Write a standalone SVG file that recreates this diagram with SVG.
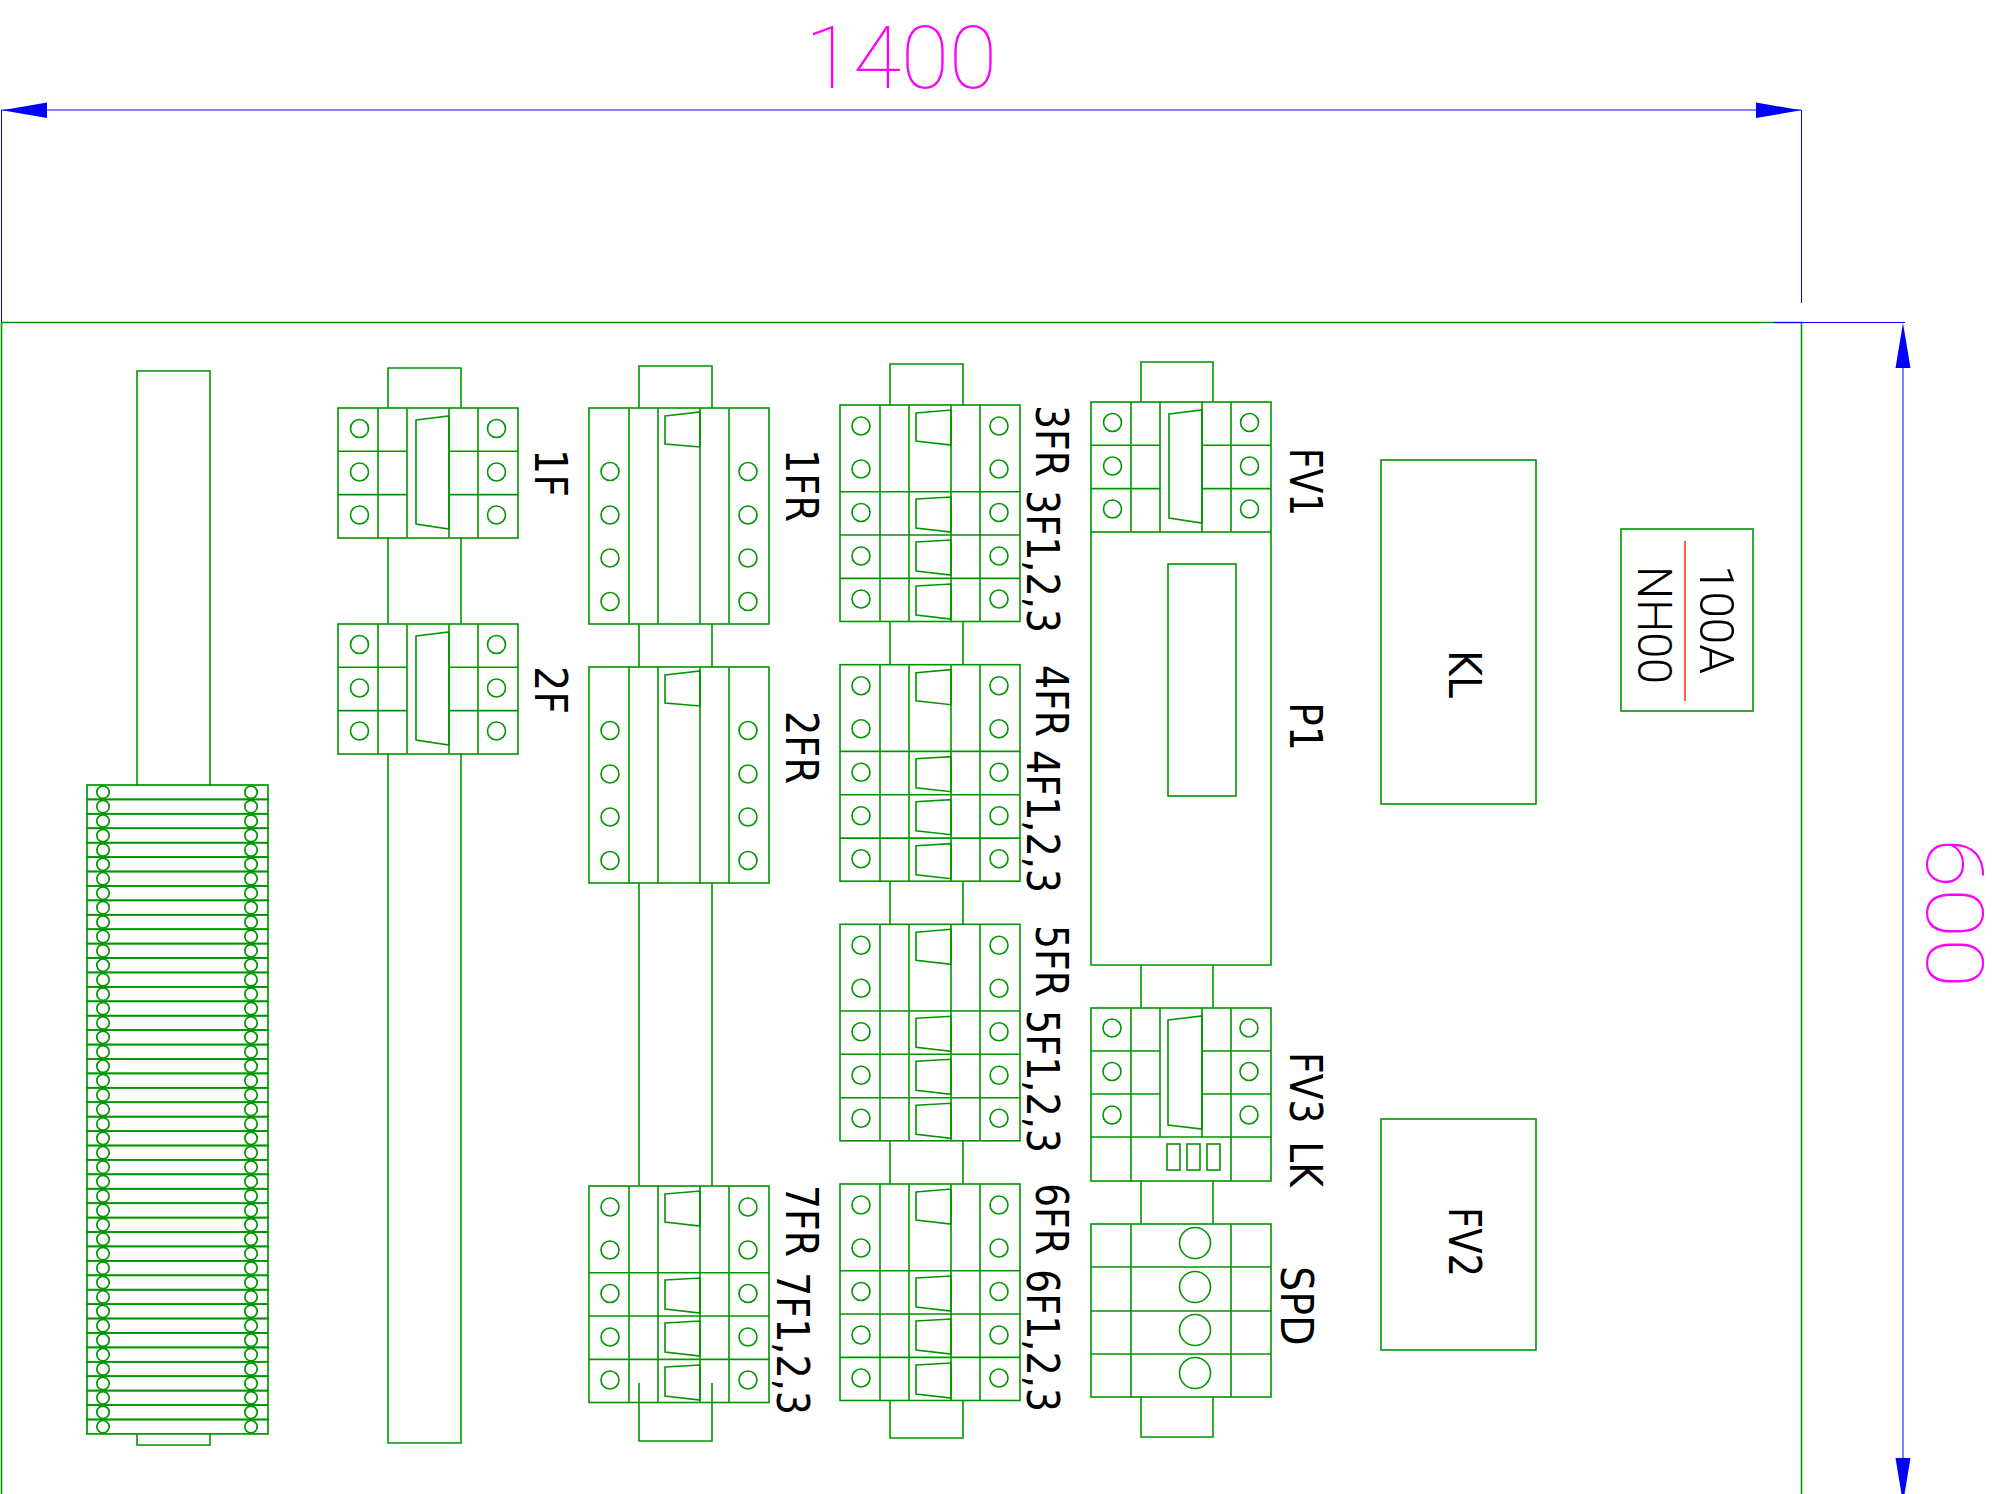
<svg xmlns="http://www.w3.org/2000/svg" width="2001" height="1494" viewBox="0 0 2001 1494">
<style>
.g{fill:none;stroke:#009600;stroke-width:1.6}
.t{fill:none;stroke:#009600;stroke-width:1.7}
.b{fill:none;stroke:#0000ff;stroke-width:1}
.a{fill:#0000ff;stroke:none}
.l{font-family:"DejaVu Sans Condensed","DejaVu Sans",sans-serif;font-stretch:condensed;font-size:44px;fill:#000;stroke:none}
.c{font-family:Roboto,"Liberation Sans",sans-serif;fill:#000}
.m{fill:#ff00ff;font-weight:100}
.k{font-size:49px;font-weight:300}
</style>
<defs>
<g id="brk-a" class="g">
<rect x="0" y="0" width="180" height="130"/>
<path d="M40 0V130M69 0V130M111 0V130M140 0V130M0 43.3H69M111 43.3H180M0 86.6H69M111 86.6H180"/>
<path d="M78 12L111 8V121L78 116Z"/>
<circle cx="21.5" cy="20.5" r="9"/><circle cx="21.5" cy="64" r="9"/><circle cx="21.5" cy="107" r="9"/>
<circle cx="158.5" cy="20.5" r="9"/><circle cx="158.5" cy="64" r="9"/><circle cx="158.5" cy="107" r="9"/>
</g>
<g id="brk-b" class="g">
<rect x="0" y="0" width="180" height="216"/>
<path d="M40 0V216M69 0V216M111 0V216M140 0V216"/>
<path d="M76 8L111 4V39L76 36Z"/>
<circle cx="21" cy="63.5" r="9"/><circle cx="21" cy="107" r="9"/><circle cx="21" cy="150" r="9"/><circle cx="21" cy="193.5" r="9"/>
<circle cx="159" cy="63.5" r="9"/><circle cx="159" cy="107" r="9"/><circle cx="159" cy="150" r="9"/><circle cx="159" cy="193.5" r="9"/>
</g>
<g id="brk-c" class="g">
<rect x="0" y="0" width="180" height="216.5"/>
<path d="M40 0V216.5M69 0V216.5M111 0V216.5M140 0V216.5M0 86.7H180M0 130H180M0 173.4H180"/>
<path d="M76 8L111 5V40L76 36Z"/><path d="M76 94L111 92V127L76 123Z"/><path d="M76 137L111 135V170L76 166Z"/><path d="M76 181L111 179V214L76 210Z"/>
<circle cx="21" cy="21" r="9"/><circle cx="21" cy="64" r="9"/><circle cx="21" cy="107.5" r="9"/><circle cx="21" cy="151" r="9"/><circle cx="21" cy="194" r="9"/>
<circle cx="159" cy="21" r="9"/><circle cx="159" cy="64" r="9"/><circle cx="159" cy="107.5" r="9"/><circle cx="159" cy="151" r="9"/><circle cx="159" cy="194" r="9"/>
</g>
<g id="term" class="t">
<rect x="87" y="0" width="181" height="14.42"/>
<circle cx="103" cy="7.2" r="6.2"/><circle cx="251" cy="7.2" r="6.2"/>
</g>
</defs>
<rect width="2001" height="1494" fill="#fff"/>
<g id="frame"><path class="g" d="M1.5 1494V322.5H1801.5V1494"/></g>
<g id="connectors">
<path class="b" d="M1.5 110H1801M1.5 110V322M1801.5 110V303M1774 322.5H1905M1903 350V1460"/>
<path class="a" d="M2 110.3L47 102.5V118ZM1801 110.3L1756 102.5V118ZM1903 323L1910.5 368H1895.5ZM1903 1503L1910.5 1458H1895.5Z"/>
<path class="g" d="M137 786V371H210V786M137 1434V1445H210V1434"/>
<path class="g" d="M388 408V368H461V408M388 537V624M461 537V624M388 753V1443H461V753"/>
<path class="g" d="M639 408V366H712V408M639 624V667M712 624V667M639 883V1186M712 883V1186M639 1383V1441H712V1383"/>
<path class="g" d="M890 405V364H963V405M890 622V665M963 622V665M890 881V924M963 881V924M890 1141V1184M963 1141V1184M890 1400V1438H963V1400"/>
<path class="g" d="M1141 402V362H1213V402M1141 965V1008M1213 965V1008M1141 1181V1224M1213 1181V1224M1141 1397V1437H1213V1397"/>
</g>
<g id="terminals">
<use href="#term" y="785"/><use href="#term" y="799.4"/><use href="#term" y="813.8"/><use href="#term" y="828.3"/><use href="#term" y="842.7"/>
<use href="#term" y="857.1"/><use href="#term" y="871.5"/><use href="#term" y="885.9"/><use href="#term" y="900.4"/><use href="#term" y="914.8"/>
<use href="#term" y="929.2"/><use href="#term" y="943.6"/><use href="#term" y="958"/><use href="#term" y="972.5"/><use href="#term" y="986.9"/>
<use href="#term" y="1001.3"/><use href="#term" y="1015.7"/><use href="#term" y="1030.1"/><use href="#term" y="1044.6"/><use href="#term" y="1059"/>
<use href="#term" y="1073.4"/><use href="#term" y="1087.8"/><use href="#term" y="1102.2"/><use href="#term" y="1116.7"/><use href="#term" y="1131.1"/>
<use href="#term" y="1145.5"/><use href="#term" y="1159.9"/><use href="#term" y="1174.3"/><use href="#term" y="1188.8"/><use href="#term" y="1203.2"/>
<use href="#term" y="1217.6"/><use href="#term" y="1232"/><use href="#term" y="1246.4"/><use href="#term" y="1260.9"/><use href="#term" y="1275.3"/>
<use href="#term" y="1289.7"/><use href="#term" y="1304.1"/><use href="#term" y="1318.5"/><use href="#term" y="1333"/><use href="#term" y="1347.4"/>
<use href="#term" y="1361.8"/><use href="#term" y="1376.2"/><use href="#term" y="1390.6"/><use href="#term" y="1405.1"/><use href="#term" y="1419.5"/>
</g>
<g id="n1F"><use href="#brk-a" x="338" y="408"/><text class="l" transform="translate(535 449) rotate(90)">1F</text></g>
<g id="n2F"><use href="#brk-a" x="338" y="624"/><text class="l" transform="translate(535 666) rotate(90)">2F</text></g>
<g id="n1FR"><use href="#brk-b" x="589" y="408"/><text class="l" transform="translate(786 449) rotate(90)" textLength="73" lengthAdjust="spacingAndGlyphs">1FR</text></g>
<g id="n2FR"><use href="#brk-b" x="589" y="667"/><text class="l" transform="translate(786 711) rotate(90)" textLength="73" lengthAdjust="spacingAndGlyphs">2FR</text></g>
<g id="n3"><use href="#brk-c" x="840" y="405"/><text class="l" transform="translate(1036 405) rotate(90)" textLength="72" lengthAdjust="spacingAndGlyphs">3FR</text><text class="l" transform="translate(1027 490) rotate(90)" textLength="143" lengthAdjust="spacingAndGlyphs">3F1,2,3</text></g>
<g id="n4"><use href="#brk-c" x="840" y="664.7"/><text class="l" transform="translate(1036 665) rotate(90)" textLength="72" lengthAdjust="spacingAndGlyphs">4FR</text><text class="l" transform="translate(1027 750) rotate(90)" textLength="143" lengthAdjust="spacingAndGlyphs">4F1,2,3</text></g>
<g id="n5"><use href="#brk-c" x="840" y="924.3"/><text class="l" transform="translate(1036 925) rotate(90)" textLength="72" lengthAdjust="spacingAndGlyphs">5FR</text><text class="l" transform="translate(1027 1010) rotate(90)" textLength="143" lengthAdjust="spacingAndGlyphs">5F1,2,3</text></g>
<g id="n6"><use href="#brk-c" x="840" y="1184"/><text class="l" transform="translate(1036 1183) rotate(90)" textLength="72" lengthAdjust="spacingAndGlyphs">6FR</text><text class="l" transform="translate(1027 1269) rotate(90)" textLength="143" lengthAdjust="spacingAndGlyphs">6F1,2,3</text></g>
<g id="n7"><use href="#brk-c" x="589" y="1186"/><text class="l" transform="translate(786 1185) rotate(90)" textLength="72" lengthAdjust="spacingAndGlyphs">7FR</text><text class="l" transform="translate(777 1272) rotate(90)" textLength="143" lengthAdjust="spacingAndGlyphs">7F1,2,3</text></g>
<g id="nFV1"><use href="#brk-a" x="1091" y="402"/><text class="l" transform="translate(1290 448) rotate(90)" textLength="68" lengthAdjust="spacingAndGlyphs">FV1</text></g>
<g id="nP1" class="g"><path d="M1091 532V965H1271V532"/><rect x="1168" y="564" width="68" height="232"/><text class="l" transform="translate(1290 702) rotate(90)">P1</text></g>
<g id="nFV3" class="g">
<rect x="1091" y="1008" width="180" height="173"/>
<path d="M1131 1008V1181M1231 1008V1181M1160 1008V1137M1202 1008V1137M1091 1051H1160M1202 1051H1271M1091 1094H1160M1202 1094H1271M1091 1137H1271"/>
<path d="M1168 1020L1202 1016V1129L1168 1125Z"/>
<circle cx="1112" cy="1028" r="9"/><circle cx="1112" cy="1071.5" r="9"/><circle cx="1112" cy="1115" r="9"/>
<circle cx="1249" cy="1028" r="9"/><circle cx="1249" cy="1071.5" r="9"/><circle cx="1249" cy="1115" r="9"/>
<rect x="1167" y="1144" width="13" height="26"/><rect x="1187" y="1144" width="13" height="26"/><rect x="1207" y="1144" width="13" height="26"/>
<text class="l" style="word-spacing:6px" transform="translate(1290 1052) rotate(90)" textLength="135" lengthAdjust="spacingAndGlyphs">FV3 LK</text>
</g>
<g id="nSPD" class="g">
<rect x="1091" y="1224" width="180" height="173"/>
<path d="M1131 1224V1397M1231 1224V1397M1091 1267H1271M1091 1311H1271M1091 1354H1271"/>
<circle cx="1195" cy="1243" r="15.5"/><circle cx="1195" cy="1287" r="15.5"/><circle cx="1195" cy="1330" r="15.5"/><circle cx="1195" cy="1373" r="15.5"/>
<text class="l" transform="translate(1281 1266) rotate(90)">SPD</text>
</g>
<g id="nKL"><rect class="g" x="1381" y="460" width="155" height="344"/><text class="l" transform="translate(1449 650) rotate(90)">KL</text></g>
<g id="nFV2"><rect class="g" x="1381" y="1119" width="155" height="231"/><text class="l" transform="translate(1449 1207) rotate(90)" textLength="70" lengthAdjust="spacingAndGlyphs">FV2</text></g>
<g id="nNH">
<rect class="g" x="1621" y="529" width="132" height="182"/>
<path d="M1685 541V701" stroke="#ff3333" stroke-width="1.6" fill="none"/>
<text class="c k" transform="translate(1700 565) rotate(90)" textLength="109" lengthAdjust="spacingAndGlyphs">100A</text>
<text class="c k" transform="translate(1638 566) rotate(90)" textLength="118" lengthAdjust="spacingAndGlyphs">NH00</text>
</g>
<g id="dims">
<text class="c m" style="font-size:87px" x="805" y="88" textLength="192" lengthAdjust="spacingAndGlyphs">1400</text>
<text class="c m" style="font-size:80px" transform="translate(1927 838) rotate(90)" textLength="150" lengthAdjust="spacingAndGlyphs">600</text>
</g>
</svg>
